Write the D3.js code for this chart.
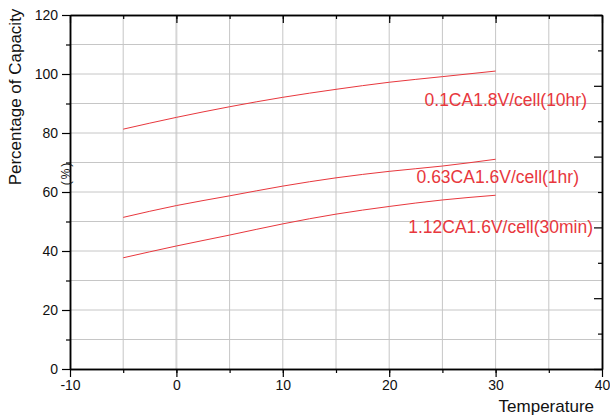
<!DOCTYPE html>
<html>
<head>
<meta charset="utf-8">
<script src="https://cdn.jsdelivr.net/npm/d3@7"></script>
<style>
    body { margin: 0; background: #fff; }
    text { font-family: "Liberation Sans", Arial, sans-serif; }
</style>
</head>
<body>
<div id="chart"></div>
<script>
const temps = [-5, 0, 5, 10, 15, 20, 25, 30];
const cap10hr = [81.3, 85.3, 88.9, 92.1, 94.8, 97.2, 99.1, 101.0];
const cap1hr = [51.4, 55.4, 58.7, 62.0, 64.8, 67.0, 68.8, 71.1];
const cap30min = [37.7, 41.7, 45.4, 49.2, 52.5, 55.1, 57.3, 58.9];
const seriesNames = ['0.1CA1.8V/cell(10hr)', '0.63CA1.6V/cell(1hr)', '1.12CA1.6V/cell(30min)'];
const xTicks = [-10, 0, 10, 20, 30, 40];
const yTicks = [0, 20, 40, 60, 80, 100, 120];

const width = 610;
const height = 420;
const margin = { top: 15, right: 8, bottom: 51, left: 70 };
const red = '#e8373d';

const svg = d3.select('#chart')
    .append('svg')
    .attr('width', width)
    .attr('height', height);

const x = d3.scaleLinear().domain([-10, 40]).range([margin.left, width - margin.right]);
const y = d3.scaleLinear().domain([0, 120]).range([height - margin.bottom, margin.top]);
// unlabelled right axis with its own divisions
const y2 = d3.scaleLinear().domain([0, 100]).range([height - margin.bottom, margin.top]);

const xMinor = d3.range(-5, 40, 5);
const yMinor = d3.range(10, 120, 10);

// grid
svg.append('g')
    .selectAll('line')
    .data(xMinor)
    .enter().append('line')
    .attr('x1', d => x(d)).attr('x2', d => x(d))
    .attr('y1', y(0)).attr('y2', y(120))
    .attr('stroke', d => d === 0 ? '#d6d6d6' : '#c6c6c6')
    .attr('stroke-width', d => d === 0 ? 2 : 1);

svg.append('g')
    .selectAll('line')
    .data(yMinor)
    .enter().append('line')
    .attr('x1', x(-10)).attr('x2', x(40))
    .attr('y1', d => y(d)).attr('y2', d => y(d))
    .attr('stroke', '#c6c6c6')
    .attr('stroke-width', 1);

// curves
const series = [cap10hr, cap1hr, cap30min];
const line = d3.line()
    .x((d, i) => x(temps[i]))
    .y(d => y(d))
    .curve(d3.curveMonotoneX);

svg.append('g')
    .selectAll('path')
    .data(series)
    .enter().append('path')
    .attr('d', line)
    .attr('fill', 'none')
    .attr('stroke', red)
    .attr('stroke-width', 1);

// axes
function styleAxis(g) {
    g.select('.domain').attr('stroke', '#000').attr('stroke-width', 1.5);
    g.selectAll('.tick line').attr('stroke', '#000').attr('stroke-width', 1.2);
    g.selectAll('.tick text').attr('fill', '#111').style('font-size', '14px')
        .style('font-family', '"Liberation Sans", Arial, sans-serif');
}

const plain = d => String(d);

const bottomAxis = svg.append('g').attr('transform', `translate(0,${y(0)})`);
bottomAxis.append('g').call(d3.axisBottom(x).tickValues(xMinor).tickFormat('').tickSize(4).tickSizeOuter(0)).call(styleAxis);
bottomAxis.append('g').call(d3.axisBottom(x).tickValues(xTicks).tickFormat(plain).tickSize(8).tickSizeOuter(0)).call(styleAxis);

const topAxis = svg.append('g').attr('transform', `translate(0,${y(120)})`);
topAxis.append('g').call(d3.axisBottom(x).tickValues(xMinor).tickFormat('').tickSize(4).tickSizeOuter(0)).call(styleAxis);
topAxis.append('g').call(d3.axisBottom(x).tickValues(xTicks).tickFormat('').tickSize(8).tickSizeOuter(0)).call(styleAxis);

const leftAxis = svg.append('g').attr('transform', `translate(${x(-10)},0)`);
leftAxis.append('g').call(d3.axisLeft(y).tickValues(yMinor.filter(d => d % 20 !== 0)).tickFormat('').tickSize(4).tickSizeOuter(0)).call(styleAxis);
leftAxis.append('g').call(d3.axisLeft(y).tickValues(yTicks).tickFormat(plain).tickSize(8).tickPadding(4).tickSizeOuter(0)).call(styleAxis);

const rightAxis = svg.append('g').attr('transform', `translate(${x(40)},0)`);
rightAxis.append('g').call(d3.axisLeft(y2).tickValues([10, 30, 50, 70, 90]).tickFormat('').tickSize(4).tickSizeOuter(0)).call(styleAxis);
rightAxis.append('g').call(d3.axisLeft(y2).tickValues([0, 20, 40, 60, 80, 100]).tickFormat('').tickSize(8).tickSizeOuter(0)).call(styleAxis);

// series labels
const labelPos = [
    { x: 587, y: 105.5 },
    { x: 579, y: 182.5 },
    { x: 593, y: 233 }
];
svg.append('g')
    .selectAll('text')
    .data(seriesNames)
    .enter().append('text')
    .attr('x', (d, i) => labelPos[i].x)
    .attr('y', (d, i) => labelPos[i].y)
    .attr('text-anchor', 'end')
    .attr('fill', red)
    .style('font-size', '17.5px')
    .text(d => d);

// axis titles
svg.append('text')
    .attr('x', 594)
    .attr('y', 412)
    .attr('text-anchor', 'end')
    .attr('fill', '#111')
    .style('font-size', '17px')
    .text('Temperature');

svg.append('text')
    .attr('transform', 'rotate(-90)')
    .attr('x', -97)
    .attr('y', 21)
    .attr('text-anchor', 'middle')
    .attr('fill', '#111')
    .style('font-size', '17px')
    .text('Percentage of Capacity');

svg.append('text')
    .attr('transform', 'rotate(-90)')
    .attr('x', -173)
    .attr('y', 70)
    .attr('text-anchor', 'middle')
    .attr('fill', '#111')
    .style('font-size', '12px')
    .style('letter-spacing', '2px')
    .text('(%)');
</script>
</body>
</html>
